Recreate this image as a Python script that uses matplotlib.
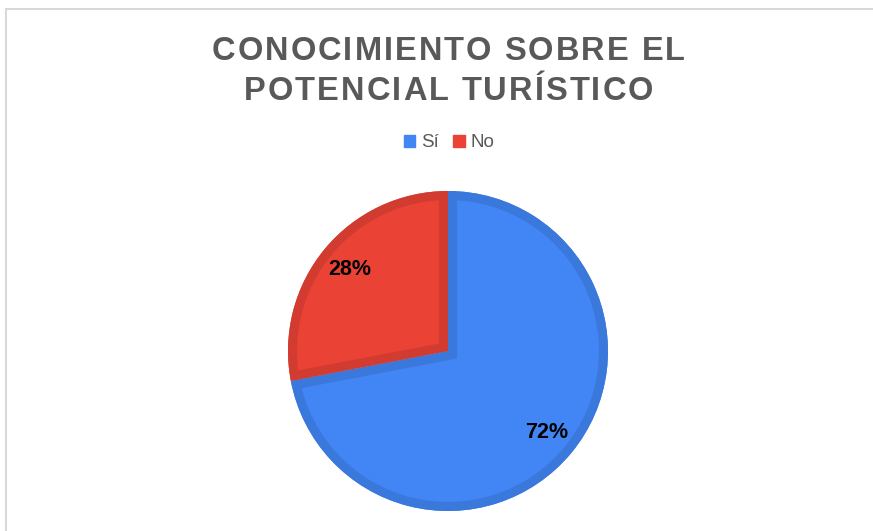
import matplotlib.pyplot as plt
from matplotlib.patches import Rectangle, Wedge
from matplotlib import font_manager

plt.rcParams['font.family'] = ['Liberation Sans', 'DejaVu Sans']

# data
labels = ['Sí', 'No']
values = [72, 28]
colors = ['#4285F4', '#EA4335']
edge_colors = ['#3B78DC', '#D23B30']

title_lines = ['CONOCIMIENTO SOBRE EL', 'POTENCIAL TURÍSTICO']

W, H = 873, 531
fig = plt.figure(figsize=(W / 100, H / 100), dpi=100)

# light frame round the chart area
fig.patches.append(Rectangle((5.5 / W, -0.01), 1.0, 1 - 8.5 / H + 0.01,
                             transform=fig.transFigure, fill=False,
                             edgecolor='#D9D9D9', linewidth=1.5))

ax = fig.add_axes([288 / W, 20 / H, 320 / W, 320 / H])
wedges, texts, autotexts = ax.pie(values, colors=colors, startangle=90,
                                  counterclock=False, autopct='%1.0f%%',
                                  pctdistance=0.8, radius=1.0,
                                  wedgeprops={'linewidth': 0},
                                  textprops={'fontsize': 15.5, 'fontweight': 'bold',
                                             'color': 'black', 'zorder': 5})
ax.set_xlim(-1, 1)
ax.set_ylim(-1, 1)
ax.set_aspect('auto')

# inner border: a stroke on each wedge, clipped to the wedge itself
for w, ec in zip(wedges, edge_colors):
    clip = Wedge(w.center, w.r, w.theta1, w.theta2, transform=ax.transData)
    border = Wedge(w.center, w.r, w.theta1, w.theta2, fill=False,
                   edgecolor=ec, linewidth=13, zorder=3)
    ax.add_patch(border)
    border.set_clip_path(clip)

# title with letter spacing, placed char by char
title_size = 23.5
prop = font_manager.FontProperties(family='Liberation Sans', weight='bold')
font = font_manager.get_font(font_manager.findfont(prop))
font.set_size(title_size, 100)
spacing = 2.0
line_y = [47.5, 87.5]
for line, yy in zip(title_lines, line_y):
    adv = [font.load_char(ord(c)).linearHoriAdvance / 65536 for c in line]
    total = sum(adv) + spacing * (len(line) - 1)
    x = 448.5 - total / 2
    for c, a in zip(line, adv):
        fig.text(x / W, 1 - yy / H, c, ha='left', va='center_baseline',
                 fontproperties=prop, fontsize=title_size, color='#595959')
        x += a + spacing

handles = [Rectangle((0, 0), 1, 1, color=c) for c in colors]
fig.legend(handles, labels, loc='center', bbox_to_anchor=(449 / W, 1 - 143 / H),
           ncol=2, frameon=False, fontsize=13.5, handlelength=0.6, handleheight=0.6,
           handletextpad=0.3, columnspacing=0.8, labelcolor='#595959')

fig.savefig('out.png', dpi=100)
